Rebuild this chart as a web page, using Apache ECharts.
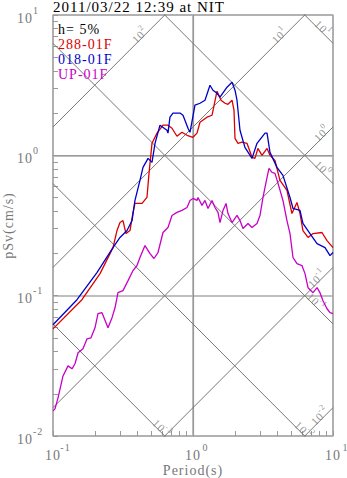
<!DOCTYPE html>
<html>
<head>
<meta charset="utf-8">
<script src="https://cdn.jsdelivr.net/npm/echarts@6/dist/echarts.min.js"></script>
<style>
  html, body { margin: 0; padding: 0; background: #fff; }
  #chart { width: 347px; height: 478px; }
  #chart text { letter-spacing: 1px; }
</style>
</head>
<body>
<div id="chart"></div>
<script>
// Pseudo-velocity response spectra (h = 5%), tripartite log-log plot.
const chartTitle = '2011/03/22 12:39 at NIT';
const dampingText = 'h= 5%';
const seriesNames = ['288-01F', '018-01F', 'UP-01F'];
const seriesColors = ['#dc0000', '#0000c8', '#c800c8'];

// 288-01F component: period (s) and pSv (cm/s)
const t288 = [0.1, 0.161, 0.2167, 0.2683, 0.2865, 0.301, 0.3162, 0.332, 0.3548, 0.3728, 0.385, 0.4325,
  0.469, 0.485, 0.5094, 0.5533, 0.6105, 0.6627, 0.7079, 0.7686, 0.8343, 0.906, 1.0, 1.068, 1.122, 1.259,
  1.367, 1.484, 1.585, 1.693, 1.778, 1.9, 1.963, 1.995, 2.096, 2.239, 2.43, 2.64, 2.77, 2.91, 3.11, 3.38,
  3.548, 3.85, 4.18, 4.69, 5.09, 5.53, 5.81, 6.1, 6.63, 7.2, 8.34, 9.06, 10];
const sv288 = [0.058, 0.0936, 0.1436, 0.22, 0.291, 0.332, 0.343, 0.277, 0.291, 0.392, 0.454, 0.454,
  0.501, 0.744, 1.218, 1.44, 1.64, 1.64, 1.56, 1.367, 1.46, 1.39, 1.345, 1.44, 1.72, 1.87,
  1.93, 2.865, 2.47, 2.35, 2.31, 2.47, 2.095, 1.32, 1.218, 1.24, 1.218, 0.968, 0.952, 1.12, 1.0, 1.12,
  1.0, 0.921, 0.663, 0.562, 0.385, 0.462, 0.385, 0.291, 0.26, 0.277, 0.282, 0.247, 0.22];

// 018-01F component
const t018 = [0.1, 0.1484, 0.206, 0.2683, 0.301, 0.338, 0.367, 0.385, 0.418, 0.4394, 0.4775, 0.5094,
  0.5355, 0.5808, 0.6518, 0.6627, 0.6847, 0.7197, 0.8073, 0.8483, 0.921, 0.952, 1.033, 1.122, 1.218,
  1.322, 1.389, 1.484, 1.559, 1.75, 1.9, 1.995, 2.062, 2.166, 2.35, 2.64, 2.865, 3.27, 3.38, 3.548,
  3.98, 4.39, 4.93, 5.18, 5.81, 6.1, 6.85, 7.69, 8.77, 9.52, 10];
const sv018 = [0.0621, 0.0936, 0.146, 0.22, 0.26, 0.291, 0.343, 0.477, 0.663, 0.821, 0.952, 0.891,
  1.218, 1.64, 1.51, 1.44, 1.87, 2.0, 2.0, 1.93, 1.56, 1.46, 2.28, 2.35, 2.47,
  3.16, 2.91, 2.77, 2.6, 3.06, 3.32, 2.91, 2.47, 1.51, 1.14, 0.952, 1.218, 1.44, 1.44, 1.05,
  0.821, 0.72, 0.501, 0.418, 0.405, 0.327, 0.277, 0.235, 0.22, 0.193, 0.203];

// UP-01F component
const tUP = [0.1, 0.1033, 0.1086, 0.1179, 0.128, 0.1367, 0.1436, 0.151, 0.1638, 0.175, 0.1868, 0.1995,
  0.2096, 0.2239, 0.247, 0.264, 0.2773, 0.2912, 0.3162, 0.3436, 0.3728, 0.398, 0.418, 0.454, 0.4932,
  0.5263, 0.5623, 0.6105, 0.6627, 0.7079, 0.7686, 0.8343, 0.906, 0.952, 1.0, 1.068, 1.086, 1.159,
  1.218, 1.28, 1.367, 1.436, 1.509, 1.559, 1.638, 1.722, 1.778, 1.9, 2.062, 2.166, 2.276, 2.47, 2.64,
  2.865, 3.01, 3.162, 3.38, 3.49, 3.667, 3.85, 4.05, 4.39, 4.69, 4.93, 5.18, 5.53, 6.0, 6.31, 6.63,
  7.2, 7.69, 8.07, 8.48, 9.06, 9.52, 10];
const svUP = [0.0151, 0.0156, 0.0187, 0.0268, 0.0316, 0.0301, 0.0327, 0.0392, 0.0418, 0.0493, 0.0501, 0.059,
  0.0744, 0.0756, 0.059, 0.0697, 0.082, 0.105, 0.1086, 0.128, 0.151, 0.164, 0.187, 0.2276, 0.1995,
  0.184, 0.203, 0.282, 0.306, 0.373, 0.392, 0.405, 0.425, 0.477, 0.493, 0.477, 0.501, 0.44,
  0.477, 0.418, 0.477, 0.425, 0.392, 0.332, 0.405, 0.454, 0.385, 0.332, 0.373, 0.343, 0.301, 0.327, 0.306,
  0.327, 0.373, 0.501, 0.697, 0.807, 0.756, 0.744, 0.631, 0.477, 0.343, 0.277, 0.187, 0.169, 0.164, 0.1436, 0.114,
  0.105, 0.114, 0.105, 0.092, 0.0807, 0.0756, 0.0744];

// Tripartite guide lines: constant displacement (cm) and constant acceleration (cm/s^2)
const dispLevels = [10, 1, 0.1, 0.01, 0.001];
const accLevels = [100, 10, 1, 0.1, 0.01];
// Period at which each guide label sits along its line
const dispLabelT = [7.69, 7.69, 6.85, 5.62, 0.544];
const accLabelT = [0.4615, 4.6, 9.2, 8.48, 8.91];

// Axis decades and minor ticks
const xDecades = [0.1, 1, 10];
const yDecades = [0.01, 0.1, 1, 10];
const minorSteps = [1, 2, 3, 4, 5, 6, 7, 8, 9];

const FONT = '"Liberation Serif", "Times New Roman", serif';
const GRAY = '#777';
const TWO_PI = 2 * Math.PI;

const expOf = v => Math.round(Math.log10(v));
const powLabel = (v, pad) => (pad ? '{p|}' : '') + '{b|10}{s|' + expOf(v) + '}';

function minorLogs(decades) {
  const out = [];
  for (let i = 0; i < decades.length - 1; i++) {
    minorSteps.forEach(k => out.push(Math.log10(decades[i] * k)));
  }
  out.push(Math.log10(decades[decades.length - 1]));
  return out;
}

const axisRich = {
  p: { width: 9 },
  b: { fontFamily: FONT, fontSize: 14, color: GRAY, lineHeight: 20, verticalAlign: 'bottom' },
  s: { fontFamily: FONT, fontSize: 10, color: GRAY, lineHeight: 10, verticalAlign: 'top',
       width: 7, padding: [0, 0, 0, 2] }
};
const guideRich = {
  b: { fontFamily: FONT, fontSize: 11, color: GRAY, lineHeight: 14, verticalAlign: 'bottom' },
  s: { fontFamily: FONT, fontSize: 8, color: GRAY, lineHeight: 8, verticalAlign: 'top',
       padding: [0, 0, 0, 1] }
};

const series = [];

// guide lines
const tEnds = [xDecades[0], xDecades[xDecades.length - 1]];
dispLevels.forEach(d => series.push({
  type: 'line', silent: true, symbol: 'none', clip: true,
  lineStyle: { color: GRAY, width: 1 },
  data: tEnds.map(t => [t, TWO_PI * d / t])
}));
accLevels.forEach(a => series.push({
  type: 'line', silent: true, symbol: 'none', clip: true,
  lineStyle: { color: GRAY, width: 1 },
  data: tEnds.map(t => [t, a * t / TWO_PI])
}));

// guide labels
const guideLabels = [];
dispLevels.forEach((d, i) => {
  const t = dispLabelT[i];
  guideLabels.push({
    value: [t, TWO_PI * d / t],
    label: { rotate: -45, offset: [5, -5], formatter: powLabel(d, false) }
  });
});
accLevels.forEach((a, i) => {
  const t = accLabelT[i];
  guideLabels.push({
    value: [t, a * t / TWO_PI],
    label: { rotate: 45, offset: [-5, -5], formatter: powLabel(a, false) }
  });
});
series.push({
  type: 'scatter', silent: true, symbolSize: 0, clip: false,
  label: { show: true, position: 'inside', rich: guideRich },
  data: guideLabels
});

// spectra
const curves = [[t288, sv288], [t018, sv018], [tUP, svUP]];
[2, 0, 1].forEach(k => {
  const [ts, vs] = curves[k];
  series.push({
    name: seriesNames[k], type: 'line', symbol: 'none', clip: true,
    lineStyle: { color: seriesColors[k], width: 1.3 },
    itemStyle: { color: seriesColors[k] },
    data: ts.map((t, i) => [t, vs[i]])
  });
});

const chart = echarts.init(document.getElementById('chart'), null, { renderer: 'svg' });
chart.setOption({
  animation: false,
  backgroundColor: '#fff',
  title: [
    { text: chartTitle, left: 53, top: -1, padding: 0,
      textStyle: { fontFamily: FONT, fontSize: 15, fontWeight: 'normal', color: '#000', lineHeight: 15 } },
    { text: dampingText, left: 58, top: 22, padding: 0,
      textStyle: { fontFamily: FONT, fontSize: 14, fontWeight: 'normal', color: '#000', lineHeight: 14 } }
  ],
  legend: {
    orient: 'vertical', left: 53, top: 37,
    icon: 'none', itemWidth: 0, itemHeight: 0, itemGap: 1, padding: 0,
    selectedMode: false,
    textStyle: { fontFamily: FONT, fontSize: 14, lineHeight: 14 },
    data: seriesNames.map((n, i) => ({ name: n, textStyle: { color: seriesColors[i] } }))
  },
  grid: {
    left: 53, top: 15, right: 14, bottom: 42,
    outerBoundsMode: 'none', containLabel: false,
    show: true, borderColor: '#999', borderWidth: 1.2
  },
  xAxis: [
    {
      type: 'log', logBase: 10, min: xDecades[0], max: xDecades[xDecades.length - 1],
      name: 'Period(s)', nameLocation: 'middle', nameGap: 27, nameMoveOverlap: false,
      nameTextStyle: { fontFamily: FONT, fontSize: 14, color: GRAY },
      axisLine: { lineStyle: { color: '#999', width: 1.2 } },
      axisTick: { show: false },
      axisLabel: { margin: 6, formatter: v => powLabel(v, true), rich: axisRich },
      splitLine: { show: true, lineStyle: { color: '#aaa', width: 1.5 } }
    },
    {
      type: 'value', min: -1, max: 1, position: 'bottom',
      axisLine: { show: false },
      axisTick: { show: true, inside: true, length: 5, customValues: minorLogs(xDecades),
        lineStyle: { color: '#999', width: 1 } },
      axisLabel: { show: false },
      splitLine: { show: false }
    }
  ],
  yAxis: [
    {
      type: 'log', logBase: 10, min: yDecades[0], max: yDecades[yDecades.length - 1],
      name: 'pSv(cm/s)', nameLocation: 'middle', nameGap: 38, nameRotate: 90, nameMoveOverlap: false,
      nameTextStyle: { fontFamily: FONT, fontSize: 14, color: GRAY },
      axisLine: { lineStyle: { color: '#999', width: 1.2 } },
      axisTick: { show: false },
      axisLabel: { margin: 36, align: 'left', formatter: v => powLabel(v, false), rich: axisRich },
      splitLine: { show: true, lineStyle: { color: '#aaa', width: 1.5 } }
    },
    {
      type: 'value', min: -2, max: 1, position: 'left',
      axisLine: { show: false },
      axisTick: { show: true, inside: true, length: 5, customValues: minorLogs(yDecades),
        lineStyle: { color: '#999', width: 1 } },
      axisLabel: { show: false },
      splitLine: { show: false }
    }
  ],
  series: series
});
</script>
</body>
</html>
